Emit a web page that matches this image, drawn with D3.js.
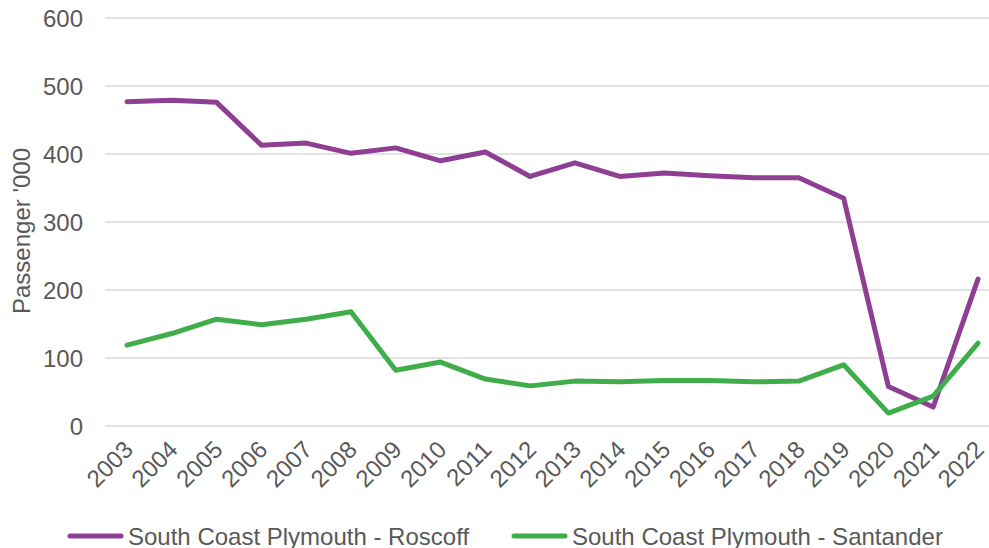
<!DOCTYPE html>
<html><head><meta charset="utf-8">
<script src="https://cdn.jsdelivr.net/npm/d3@7"></script>
<style>
html,body{margin:0;padding:0;background:#fff;}
svg{display:block;font-family:"Liberation Sans",Arial,sans-serif;}
</style></head>
<body>
<svg id="chart" width="989" height="548"></svg>
<script>
const years = ["2003","2004","2005","2006","2007","2008","2009","2010","2011","2012","2013","2014","2015","2016","2017","2018","2019","2020","2021","2022"];
const roscoff = [477,479,476,413,416,401,409,390,403,367,387,367,372,368,365,365,335,58,28,216];
const santander = [119,136,157,149,157,168,82,94,69,59,66,65,67,67,65,66,90,19,44,122];
const yTicks = [0,100,200,300,400,500,600];
const seriesNames = ["South Coast Plymouth - Roscoff","South Coast Plymouth - Santander"];
const colors = ["#8e3f93","#3fae4a"];

const svg = d3.select("#chart");
const x = d3.scalePoint().domain(years).range([127,978]);
const y = d3.scaleLinear().domain([0,600]).range([426,18]);
const textColor = "#595959";
const fs = "24px";

// gridlines
svg.append("g").selectAll("line").data(yTicks).join("line")
  .attr("x1",105).attr("x2",989)
  .attr("y1",d=>y(d)).attr("y2",d=>y(d))
  .attr("stroke","#d9d9d9").attr("stroke-width",1.5);

// y axis labels
const yAxis = d3.axisLeft(y).tickValues(yTicks).tickSize(0).tickPadding(0);
const gy = svg.append("g").attr("transform","translate(83,0)").call(yAxis);
gy.select(".domain").remove();
gy.selectAll("text").attr("fill",textColor).style("font-size",fs)
  .style("font-family","Liberation Sans, Arial, sans-serif").attr("dy","0.35em");

// x axis labels
const xAxis = d3.axisBottom(x).tickSize(0).tickPadding(0);
const gx = svg.append("g").attr("transform","translate(0,426)").call(xAxis);
gx.select(".domain").remove();
gx.selectAll("text").attr("fill",textColor).style("font-size",fs)
  .style("font-family","Liberation Sans, Arial, sans-serif")
  .attr("text-anchor","end").attr("dy",null).attr("y",0).attr("x",0)
  .attr("transform","translate(1,19) rotate(-45)")
  .attr("dominant-baseline","central");

// y title
svg.append("text").attr("transform","translate(21,231) rotate(-90)")
  .attr("text-anchor","middle").attr("dominant-baseline","central")
  .attr("fill",textColor).style("font-size",fs).text("Passenger '000");

// lines
const line = d3.line().x((d,i)=>x(years[i])).y(d=>y(d));
[roscoff,santander].forEach((s,k)=>{
  svg.append("path").datum(s).attr("d",line).attr("fill","none")
    .attr("stroke",colors[k]).attr("stroke-width",5)
    .attr("stroke-linejoin","round").attr("stroke-linecap","round");
});

// legend
const legPos = [68,512];
seriesNames.forEach((n,k)=>{
  const g = svg.append("g").attr("transform",`translate(${legPos[k]},536)`);
  g.append("line").attr("x1",2).attr("x2",53).attr("y1",0).attr("y2",0)
    .attr("stroke",colors[k]).attr("stroke-width",5).attr("stroke-linecap","round");
  g.append("text").attr("x",60).attr("y",0).attr("dominant-baseline","central")
    .attr("fill",textColor).style("font-size",fs).text(n);
});
</script>
</body></html>
